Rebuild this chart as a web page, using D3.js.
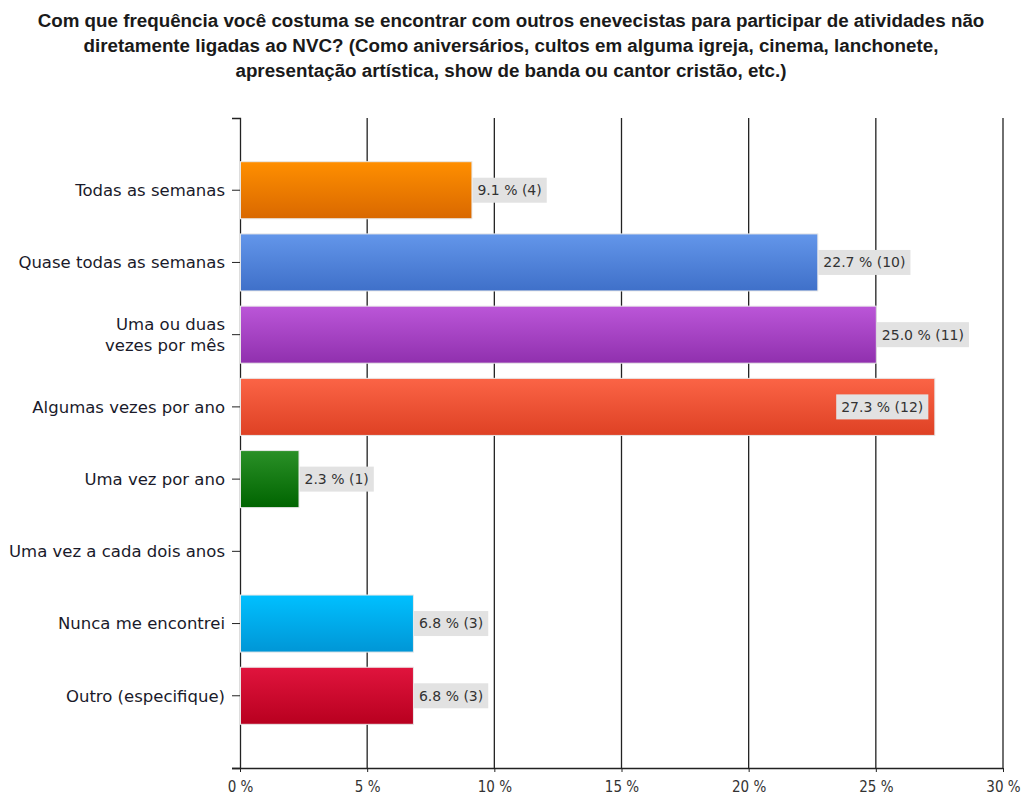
<!DOCTYPE html>
<html>
<head>
<meta charset="utf-8">
<script src="https://cdn.jsdelivr.net/npm/d3@7"></script>
<style>
  body { margin: 0; background: #fff; }
  svg { display: block; }
</style>
</head>
<body>
<div id="chart"></div>
<script>
// Data
const categories = [
  "Todas as semanas",
  "Quase todas as semanas",
  "Uma ou duas\nvezes por mês",
  "Algumas vezes por ano",
  "Uma vez por ano",
  "Uma vez a cada dois anos",
  "Nunca me encontrei",
  "Outro (especifique)"
];
const percents = [9.1, 22.7, 25.0, 27.3, 2.3, 0, 6.8, 6.8];
const counts = [4, 10, 11, 12, 1, 0, 3, 3];
const xTicks = [0, 5, 10, 15, 20, 25, 30];
const titleLines = [
  "Com que frequência você costuma se encontrar com outros enevecistas para participar de atividades não",
  "diretamente ligadas ao NVC? (Como aniversários, cultos em alguma igreja, cinema, lanchonete,",
  "apresentação artística, show de banda ou cantor cristão, etc.)"
];

// Gradient colours for each bar (top, bottom)
const colors = [
  ["#ff8f00", "#d96800"],
  ["#6396ea", "#3f70c9"],
  ["#bb56d8", "#9030ae"],
  ["#fb6446", "#de4124"],
  ["#2a9027", "#006400"],
  ["#cccccc", "#aaaaaa"],
  ["#00c0ff", "#0096d6"],
  ["#e0143d", "#b8001f"]
];

const outerWidth = 1023;
const outerHeight = 796;
const margin = { top: 118, right: 20, bottom: 28, left: 240 };
const width = 1003 - margin.left;
const height = outerHeight - margin.top - margin.bottom;

const svg = d3.select("#chart")
  .append("svg")
  .attr("width", outerWidth)
  .attr("height", outerHeight);

// Title
svg.append("g")
  .selectAll("text")
  .data(titleLines)
  .join("text")
  .attr("x", 511)
  .attr("y", (d, i) => 27 + i * 25)
  .attr("text-anchor", "middle")
  .attr("font-family", "Liberation Sans, Arial, sans-serif")
  .attr("font-weight", "bold")
  .attr("font-size", 18.8)
  .attr("fill", "#1a1a1a")
  .text(d => d);

const defs = svg.append("defs");
colors.forEach((c, i) => {
  const grad = defs.append("linearGradient")
    .attr("id", "grad" + i)
    .attr("x1", 0).attr("y1", 0).attr("x2", 0).attr("y2", 1);
  grad.append("stop").attr("offset", "0%").attr("stop-color", c[0]);
  grad.append("stop").attr("offset", "100%").attr("stop-color", c[1]);
});

const g = svg.append("g")
  .attr("transform", `translate(${margin.left},${margin.top})`);

const x = d3.scaleLinear()
  .domain([0, 30])
  .range([0, width]);

const y = d3.scaleBand()
  .domain(categories)
  .range([0, height])
  .paddingInner(0.21)
  .paddingOuter(0.605);

// Vertical grid lines
g.append("g")
  .selectAll("line")
  .data(xTicks.slice(1))
  .join("line")
  .attr("x1", d => x(d)).attr("x2", d => x(d))
  .attr("y1", 0).attr("y2", height)
  .attr("stroke", "#222")
  .attr("stroke-width", 1.3);

// Bottom axis
const xAxis = g.append("g")
  .attr("transform", `translate(0,${height})`)
  .call(d3.axisBottom(x).tickValues(xTicks).tickFormat(d => d + " %").tickSize(4).tickSizeOuter(0));
xAxis.select(".domain").attr("stroke", "#222").attr("stroke-width", 1.3)
  .attr("d", `M-8,0.5H${width}`);
xAxis.selectAll(".tick line").attr("stroke", "#222");
xAxis.selectAll("text")
  .attr("font-family", "DejaVu Sans Condensed, DejaVu Sans, sans-serif")
  .attr("font-size", 15)
  .attr("fill", "#333")
  .attr("y", 10)
  .attr("dy", "0.9em");

// Left axis
const yAxis = g.append("g")
  .call(d3.axisLeft(y).tickSize(8).tickSizeOuter(8).tickFormat(""));
yAxis.select(".domain").attr("stroke", "#222").attr("stroke-width", 1.3);
yAxis.selectAll(".tick line").attr("stroke", "#222");

yAxis.selectAll(".tick")
  .append("text")
  .attr("x", -15)
  .attr("text-anchor", "end")
  .attr("font-family", "DejaVu Sans, sans-serif")
  .attr("font-size", 16.5)
  .attr("fill", "#1a1a2a")
  .each(function (d) {
    const lines = d.split("\n");
    const t = d3.select(this);
    lines.forEach((line, i) => {
      t.append("tspan")
        .attr("x", -15)
        .attr("dy", i === 0 ? (0.35 - (lines.length - 1) * 0.65) + "em" : "1.3em")
        .text(line);
    });
  });

// Bars
const rows = categories.map((c, i) => ({ name: c, value: percents[i], count: counts[i], i }));

g.selectAll(".bar")
  .data(rows.filter(d => d.value > 0))
  .join("rect")
  .attr("class", "bar")
  .attr("x", 0.5)
  .attr("y", d => y(d.name))
  .attr("width", d => x(d.value))
  .attr("height", y.bandwidth())
  .attr("fill", d => `url(#grad${d.i})`)
  .attr("stroke", "#e8e8e8")
  .attr("stroke-width", 1);

// Value labels
const labels = g.selectAll(".lbl")
  .data(rows.filter(d => d.value > 0))
  .join("g")
  .attr("class", "lbl");

labels.each(function (d) {
  const lg = d3.select(this);
  const rect = lg.append("rect");
  const txt = lg.append("text")
    .attr("font-family", "DejaVu Sans, sans-serif")
    .attr("font-size", 14)
    .attr("fill", "#333")
    .attr("dy", "0.35em")
    .text(`${d.value.toFixed(1)} % (${d.count})`);
  const tw = txt.node().getComputedTextLength();
  const bw = tw + 10;
  const bh = 25;
  const cy = y(d.name) + y.bandwidth() / 2;
  let bx = x(d.value) + 1;
  if (bx + bw > width) bx = x(d.value) - 6 - bw;
  rect.attr("x", bx).attr("y", cy - bh / 2)
    .attr("width", bw).attr("height", bh)
    .attr("fill", "#e2e2e2");
  txt.attr("x", bx + 5).attr("y", cy);
});
</script>
</body>
</html>
